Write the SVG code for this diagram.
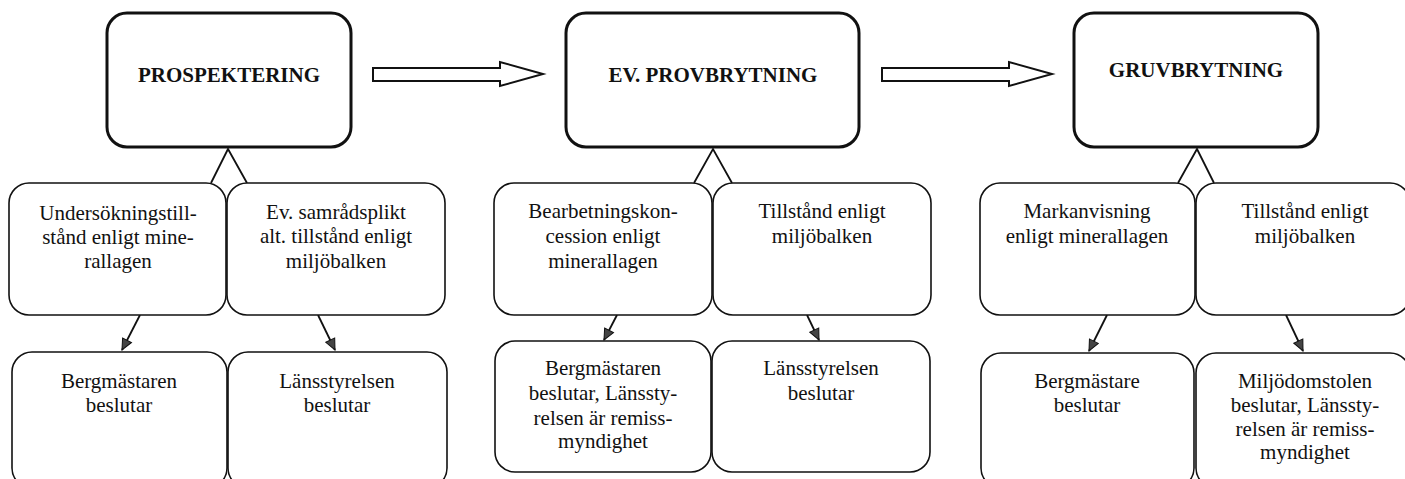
<svg xmlns="http://www.w3.org/2000/svg" width="1405" height="479" viewBox="0 0 1405 479">
<style>
.bg{fill:#fff}
.main{fill:#fff;stroke:#111;stroke-width:3}
.sub{fill:#fff;stroke:#111;stroke-width:1.6}
.title{font-family:"Liberation Serif","Times New Roman",serif;font-weight:bold;font-size:21px;fill:#111;text-anchor:middle}
.txt{font-family:"Liberation Serif","Times New Roman",serif;font-size:21px;fill:#111;text-anchor:middle}
.line{fill:none;stroke:#111;stroke-width:1.8}
.hollow{fill:#fff;stroke:#111;stroke-width:2}
</style>
<defs>
<marker id="ah" markerUnits="userSpaceOnUse" markerWidth="14" markerHeight="12" viewBox="0 0 14 12" refX="12" refY="6" orient="auto">
<path d="M1,1 L12,6 L1,11 z" fill="#444" stroke="#111" stroke-width="1"/>
</marker>
</defs>
<rect class="bg" x="0" y="0" width="1405" height="479"/>

<g id="connectors">
<polyline class="line" points="211,183 228,149 247,183"/>
<polyline class="line" points="694,183 713,149 732,183"/>
<polyline class="line" points="1178,183 1197,149 1214,183"/>
<line class="line" x1="140" y1="315" x2="122" y2="350" marker-end="url(#ah)"/>
<line class="line" x1="318" y1="315" x2="335" y2="350" marker-end="url(#ah)"/>
<line class="line" x1="617" y1="315" x2="604" y2="340" marker-end="url(#ah)"/>
<line class="line" x1="807" y1="315" x2="819" y2="340" marker-end="url(#ah)"/>
<line class="line" x1="1107" y1="315" x2="1089" y2="351" marker-end="url(#ah)"/>
<line class="line" x1="1286" y1="315" x2="1303" y2="351" marker-end="url(#ah)"/>
<path class="hollow" d="M373,68 L500,68 L500,62 L543,74 L500,86 L500,81 L373,81 z"/>
<path class="hollow" d="M882,68 L1009,68 L1009,62 L1052,74 L1009,86 L1009,81 L882,81 z"/>
</g>

<g id="prospektering">
<rect class="main" x="107" y="13" width="244" height="134" rx="20"/>
<text class="title" x="229" y="82">PROSPEKTERING</text>
</g>
<g id="provbrytning">
<rect class="main" x="566" y="13" width="293" height="134" rx="20"/>
<text class="title" x="713" y="82">EV. PROVBRYTNING</text>
</g>
<g id="gruvbrytning">
<rect class="main" x="1074" y="13" width="244" height="134" rx="20"/>
<text class="title" x="1196" y="77">GRUVBRYTNING</text>
</g>

<g id="undersokning">
<rect class="sub" x="9" y="183" width="217" height="132" rx="20"/>
<text class="txt" x="118" y="220">Undersökningstill-</text>
<text class="txt" x="118" y="244">stånd enligt mine-</text>
<text class="txt" x="118" y="268">rallagen</text>
</g>
<g id="samradsplikt">
<rect class="sub" x="227" y="183" width="218" height="132" rx="20"/>
<text class="txt" x="336" y="219">Ev. samrådsplikt</text>
<text class="txt" x="336" y="243">alt. tillstånd enligt</text>
<text class="txt" x="336" y="268">miljöbalken</text>
</g>
<g id="bergmastaren1">
<rect class="sub" x="12" y="352" width="215" height="136" rx="20"/>
<text class="txt" x="119" y="388">Bergmästaren</text>
<text class="txt" x="119" y="412">beslutar</text>
</g>
<g id="lansstyrelsen1">
<rect class="sub" x="228" y="352" width="219" height="136" rx="20"/>
<text class="txt" x="337" y="388">Länsstyrelsen</text>
<text class="txt" x="337" y="412">beslutar</text>
</g>

<g id="bearbetning">
<rect class="sub" x="494" y="183" width="218" height="132" rx="20"/>
<text class="txt" x="603" y="218">Bearbetningskon-</text>
<text class="txt" x="603" y="243">cession enligt</text>
<text class="txt" x="603" y="268">minerallagen</text>
</g>
<g id="tillstand2">
<rect class="sub" x="713" y="183" width="218" height="132" rx="20"/>
<text class="txt" x="822" y="218">Tillstånd enligt</text>
<text class="txt" x="822" y="243">miljöbalken</text>
</g>
<g id="bergmastaren2">
<rect class="sub" x="495" y="341" width="216" height="131" rx="20"/>
<text class="txt" x="603" y="375">Bergmästaren</text>
<text class="txt" x="603" y="400">beslutar, Länssty-</text>
<text class="txt" x="603" y="425">relsen är remiss-</text>
<text class="txt" x="603" y="448">myndighet</text>
</g>
<g id="lansstyrelsen2">
<rect class="sub" x="712" y="341" width="218" height="131" rx="20"/>
<text class="txt" x="821" y="375">Länsstyrelsen</text>
<text class="txt" x="821" y="400">beslutar</text>
</g>

<g id="markanvisning">
<rect class="sub" x="980" y="183" width="215" height="132" rx="20"/>
<text class="txt" x="1087" y="218">Markanvisning</text>
<text class="txt" x="1087" y="243">enligt minerallagen</text>
</g>
<g id="tillstand3">
<rect class="sub" x="1196" y="183" width="214" height="132" rx="20"/>
<text class="txt" x="1305" y="218">Tillstånd enligt</text>
<text class="txt" x="1305" y="243">miljöbalken</text>
</g>
<g id="bergmastare3">
<rect class="sub" x="981" y="353" width="213" height="135" rx="20"/>
<text class="txt" x="1087" y="388">Bergmästare</text>
<text class="txt" x="1087" y="412">beslutar</text>
</g>
<g id="miljodomstolen">
<rect class="sub" x="1196" y="353" width="214" height="135" rx="20"/>
<text class="txt" x="1305" y="388">Miljödomstolen</text>
<text class="txt" x="1305" y="412">beslutar, Länssty-</text>
<text class="txt" x="1305" y="436">relsen är remiss-</text>
<text class="txt" x="1305" y="459">myndighet</text>
</g>
</svg>
